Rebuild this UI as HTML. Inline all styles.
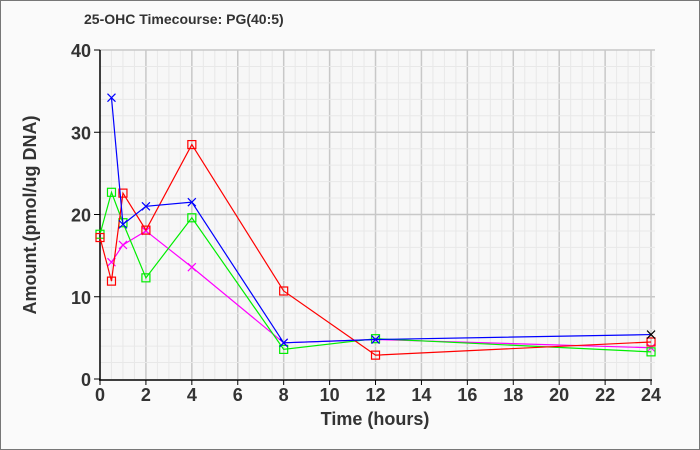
<!DOCTYPE html>
<html><head><meta charset="utf-8"><style>
html,body{margin:0;padding:0;background:#fafafa}
svg{display:block}
text{font-family:"Liberation Sans",sans-serif;font-weight:bold;fill:#333}
</style></head><body>
<svg id="s" width="700" height="450" viewBox="0 0 700 450" xmlns="http://www.w3.org/2000/svg">
<rect x="0.5" y="0.5" width="699" height="449" fill="#fafafa" stroke="#777"/>
<text x="84" y="24" font-size="14" fill="#222">25-OHC Timecourse: PG(40:5)</text>
<g id="grid"></g>
<g id="axes"></g>
<g id="data"></g>
<text x="375" y="425" font-size="18" text-anchor="middle">Time (hours)</text>
<text transform="translate(36,215) rotate(-90)" font-size="18" text-anchor="middle">Amount.(pmol/ug DNA)</text>
</svg>
<script>
const NS="http://www.w3.org/2000/svg";
const X=t=>100+t*22.96, Y=v=>379-v*8.225;
function el(p,n,a){const e=document.createElementNS(NS,n);for(const k in a)e.setAttribute(k,a[k]);p.appendChild(e);return e;}
const g=document.getElementById('grid'),ax=document.getElementById('axes'),d=document.getElementById('data');
el(g,'rect',{x:100,y:50,width:555,height:329,fill:'#f7f7f7'});
for(let t=0.5;t<=24.2;t+=0.5){const x=X(t);const maj=Math.abs(t/2-Math.round(t/2))<1e-6;
 el(g,'line',{x1:x,y1:50,x2:x,y2:379,stroke:maj?'#c8c8c8':'#e8e8e8','stroke-width':maj?1.5:1});}
for(let v=2;v<=40;v+=2){const y=Y(v);const maj=v%10==0;
 el(g,'line',{x1:100,y1:y,x2:655,y2:y,stroke:maj?'#c8c8c8':'#e8e8e8','stroke-width':maj?1.5:1});}
el(ax,'line',{x1:100,y1:50,x2:100,y2:380,stroke:'#000','stroke-width':1.5});
el(ax,'line',{x1:99,y1:380,x2:652,y2:380,stroke:'#000','stroke-width':1.5});
for(let t=0;t<=24;t+=2){const x=X(t);el(ax,'line',{x1:x,y1:380,x2:x,y2:385,stroke:'#000'});
 const tx=el(ax,'text',{x:x,y:401,'font-size':18,'text-anchor':'middle'});tx.textContent=t;}
for(let v=0;v<=40;v+=10){const y=Y(v);el(ax,'line',{x1:94,y1:y,x2:100,y2:y,stroke:'#000'});
 const tx=el(ax,'text',{x:91,y:y+7,'font-size':18,'text-anchor':'end'});tx.textContent=v;}
const series=[
 {c:'#ff00ff',m:'x',p:[[0.5,14.2],[1,16.3],[2,18.0],[4,13.6],[8,4.4],[12,4.8],[24,3.8]]},
 {c:'#00ee00',m:'s',p:[[0,17.6],[0.5,22.7],[1,19.0],[2,12.3],[4,19.6],[8,3.6],[12,4.9],[24,3.3]]},
 {c:'#ff0000',m:'s',p:[[0,17.2],[0.5,11.9],[1,22.6],[2,18.1],[4,28.5],[8,10.7],[12,2.9],[24,4.5]]},
 {c:'#0000ff',m:'x',p:[[0.5,34.2],[1,18.8],[2,21.0],[4,21.5],[8,4.4],[12,4.8],[24,5.4]],last:'#000'}
];
for(const s of series){
 el(d,'polyline',{points:s.p.map(q=>X(q[0])+','+Y(q[1])).join(' '),fill:'none',stroke:s.c,'stroke-width':1.2});
 s.p.forEach((q,i)=>{const x=X(q[0]),y=Y(q[1]);const c=(s.last&&i==s.p.length-1)?s.last:s.c;
  if(s.m=='s')el(d,'rect',{x:x-4,y:y-4,width:8,height:8,fill:'none',stroke:c,'stroke-width':1.2});
  else{el(d,'path',{d:`M${x-4},${y-4}L${x+4},${y+4}M${x-4},${y+4}L${x+4},${y-4}`,stroke:c,'stroke-width':1.2});}
 });
}
</script>
</body></html>
